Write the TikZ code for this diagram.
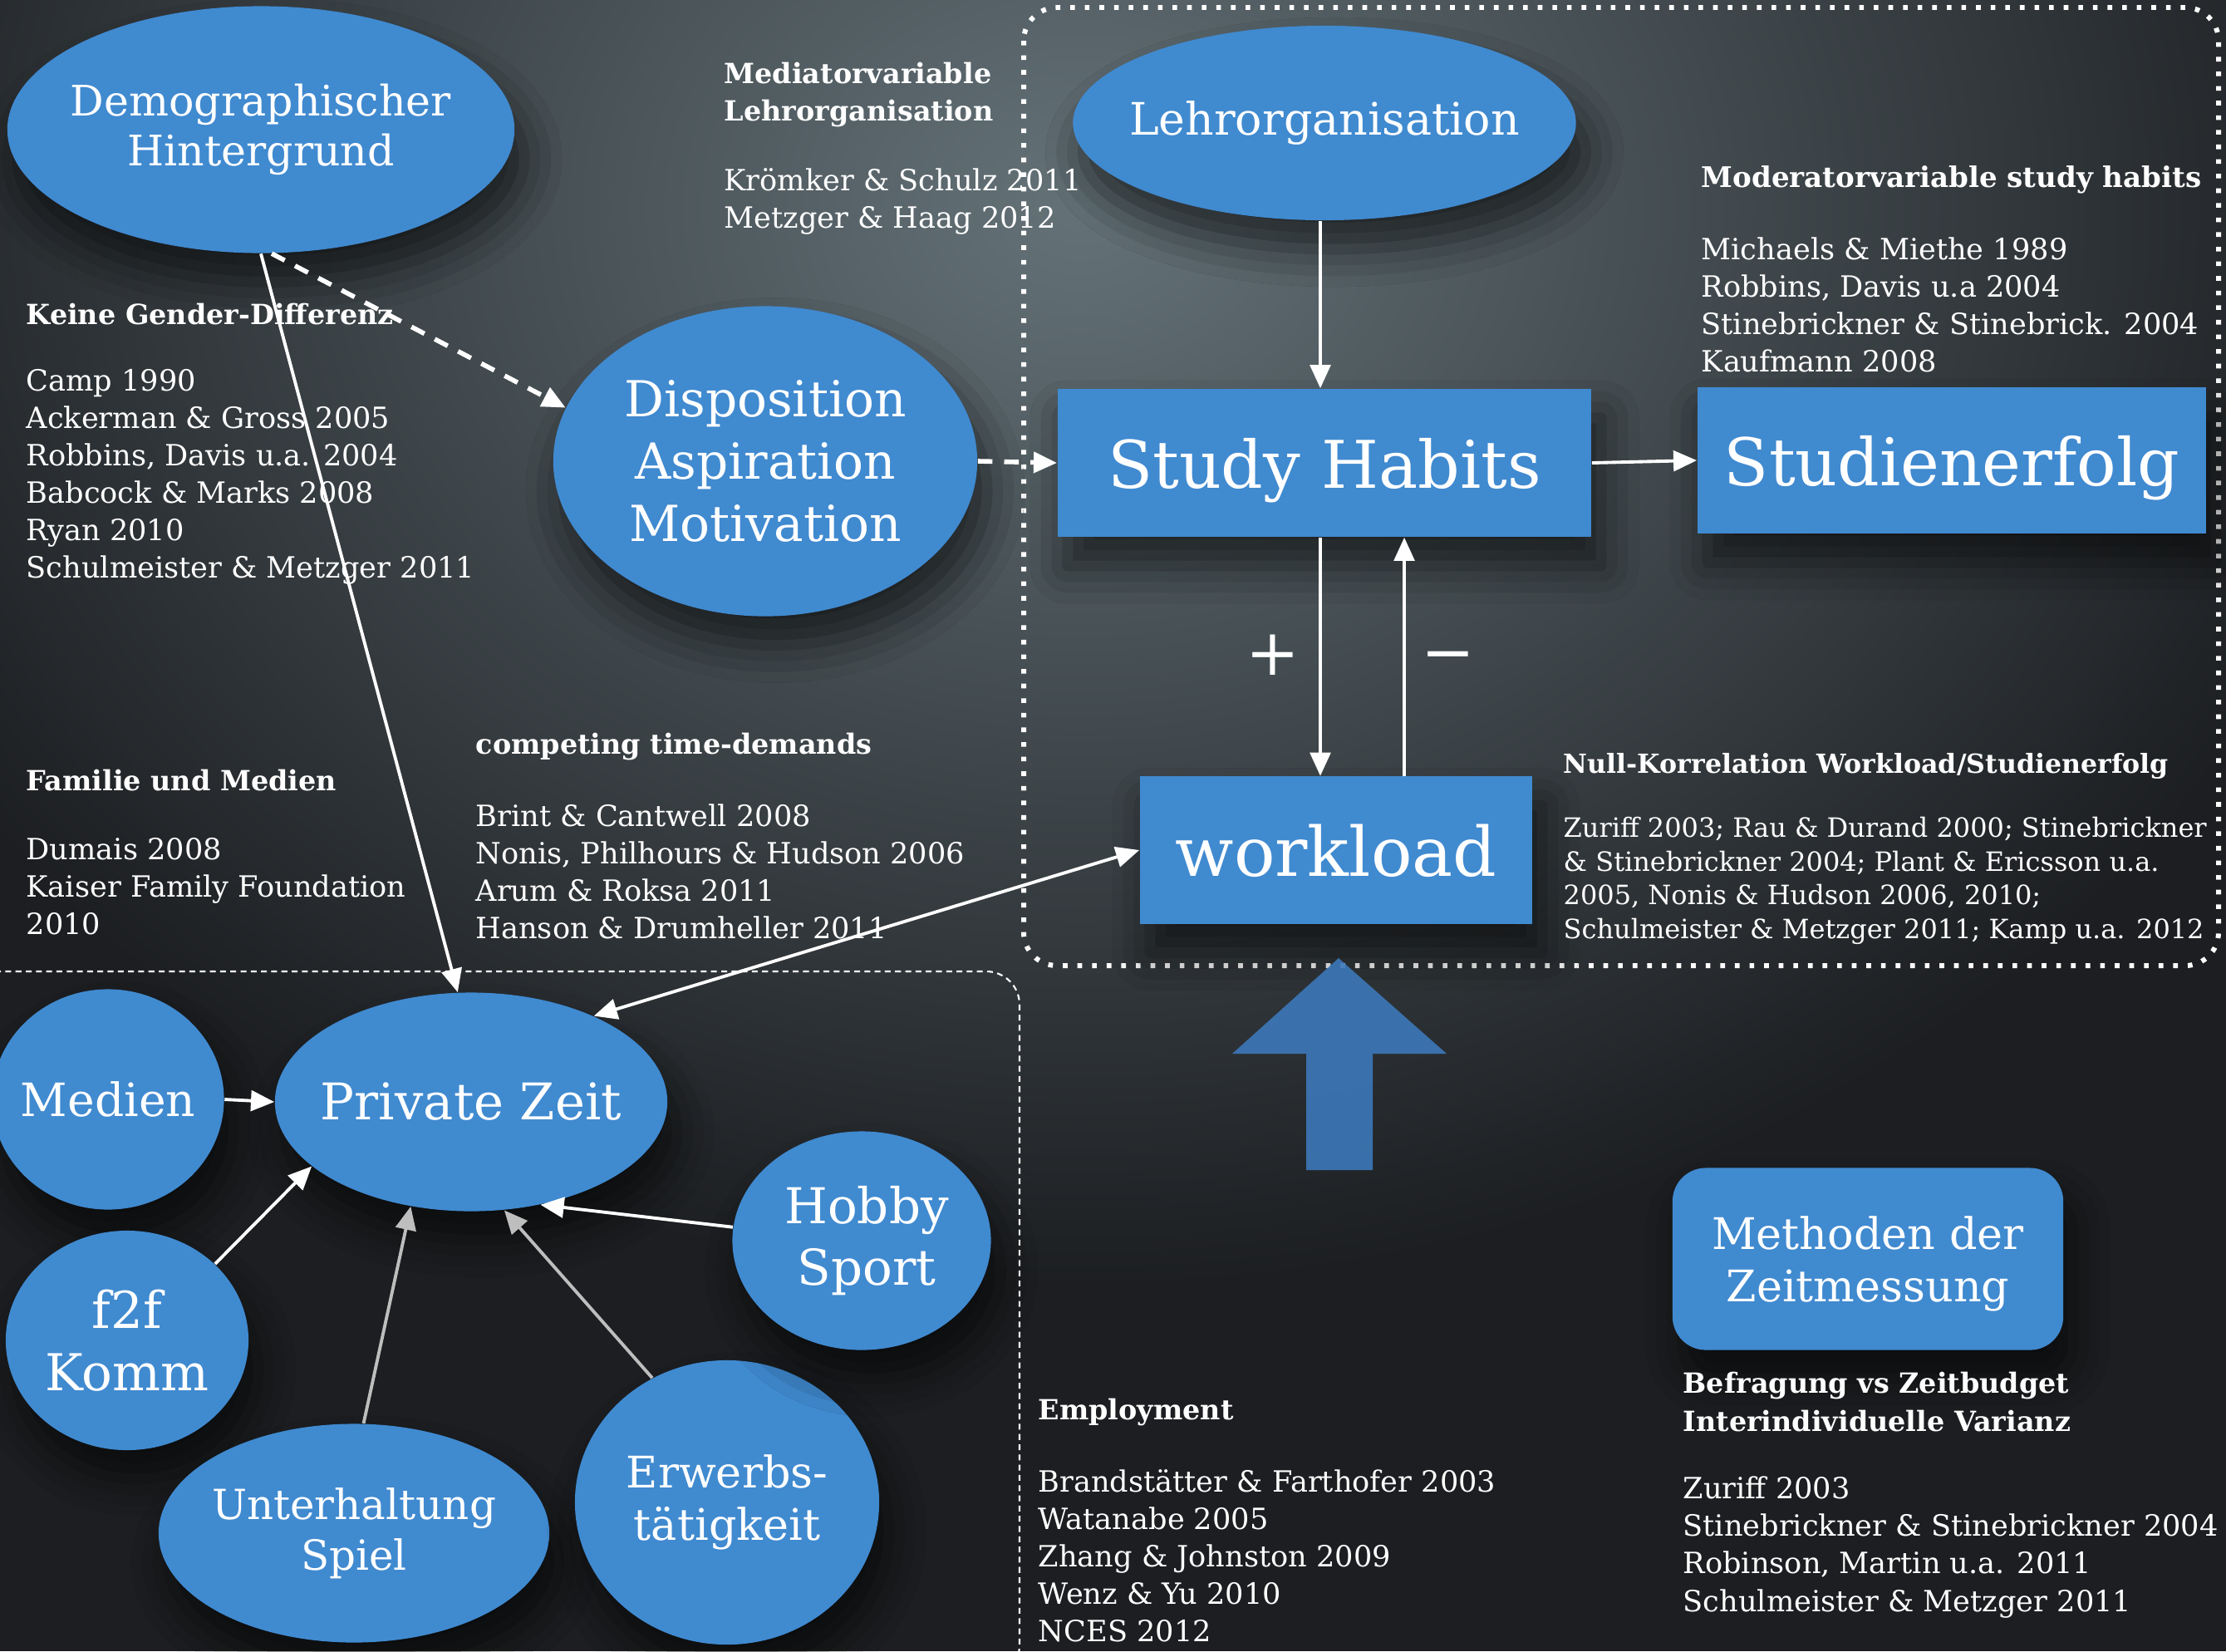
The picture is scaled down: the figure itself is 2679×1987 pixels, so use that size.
\documentclass[tikz,border=0pt]{standalone}
\usepackage{fontspec}
\setmainfont{DejaVu Serif}
\usetikzlibrary{shapes.geometric,arrows.meta,shadows.blur}

\definecolor{nodeblue}{RGB}{64,138,208}
\definecolor{arrowblue}{RGB}{60,120,185}
\definecolor{bgdark}{RGB}{28,30,33}
\definecolor{bglight}{RGB}{100,114,120}
\definecolor{fadegray}{RGB}{190,190,190}

\tikzset{
  blob/.style={ellipse, fill=nodeblue, text=white, inner sep=-2cm, align=center,
    blur shadow={shadow xshift=0.12cm, shadow yshift=-0.35cm,
      shadow blur radius=0.45cm, shadow opacity=60}},
  blockbox/.style={blob, rectangle, inner sep=0pt, text depth=0pt,
    font=\fontsize{22.5}{26}\selectfont},
  reftext/.style={text=white, anchor=west, align=left, inner sep=0pt,
    font=\fontsize{10}{12.8}\selectfont},
  headtext/.style={reftext, font=\bfseries\fontsize{9.5}{13}\selectfont},
  link/.style={white, line width=1.1pt, -{Triangle[width=7pt,length=8pt]}},
  dashlink/.style={link, line width=1.6pt, dash pattern=on 5pt off 4pt},
  dotborder/.style={white, line width=1.7pt,
    dash pattern=on 1.6pt off 3.4pt, rounded corners=0.4cm},
  dashborder/.style={white, line width=0.6pt, dash pattern=on 2pt off 1.5pt,
    rounded corners=0.4cm},
}

\begin{document}
\begin{tikzpicture}[x=0.01cm,y=-0.01cm]
  \useasboundingbox (0,0) rectangle (2679,1987);
  % background
  \fill[bgdark] (0,0) rectangle (2679,1987);
  \begin{scope}
    \clip (0,0) rectangle (2679,1987);
    \shade[inner color=bglight, outer color=bgdark]
      (1300,250) ellipse [x radius=16cm, y radius=13cm];
  \end{scope}

  % groups
  \draw[dotborder] (1232,9) rectangle (2670,1162);
  \draw[dashborder] (-60,1169) rectangle (1227,2020);

  % nodes
  \node[blob, minimum width=6.1cm, minimum height=2.97cm,
    font=\fontsize{14.4}{17}\selectfont] (demo) at (314,156)
    {Demographischer\\Hintergrund};
  \node[blob, minimum width=5.1cm, minimum height=3.73cm,
    font=\fontsize{17}{21.3}\selectfont] (disp) at (921,555)
    {Disposition\\Aspiration\\Motivation};
  \node[blob, minimum width=6.05cm, minimum height=2.34cm,
    font=\fontsize{15.3}{17}\selectfont] (lehr) at (1594,148)
    {Lehrorganisation};
  \node[blockbox, minimum width=6.42cm, minimum height=1.78cm] (study)
    at (1594,557) {Study Habits};
  \node[blockbox, minimum width=6.12cm, minimum height=1.76cm] (erfolg)
    at (2349,554) {Studienerfolg};
  \node[blockbox, minimum width=4.72cm, minimum height=1.77cm,
    font=\fontsize{23.4}{26}\selectfont] (workload)
    at (1608,1023) {workload};
  \node[blob, minimum width=4.72cm, minimum height=2.63cm,
    font=\fontsize{17.3}{20}\selectfont] (privat) at (567,1326)
    {Private Zeit};
  \node[blob, minimum width=2.79cm, minimum height=2.65cm,
    font=\fontsize{15.7}{19}\selectfont] (medien) at (130,1323) {Medien};
  \node[blob, minimum width=2.92cm, minimum height=2.64cm,
    font=\fontsize{17.4}{21.4}\selectfont] (f2f) at (153,1613) {f2f\\Komm};
  \node[blob, minimum width=4.7cm, minimum height=2.63cm,
    font=\fontsize{14.2}{17.5}\selectfont] (unter) at (426,1845)
    {Unterhaltung\\Spiel};
  \node[blob, minimum width=3.66cm, minimum height=3.42cm,
    font=\fontsize{14.9}{18}\selectfont] (erwerb) at (875,1808)
    {Erwerbs-\\tätigkeit};
  \node[blob, minimum width=3.11cm, minimum height=2.63cm,
    font=\fontsize{16.9}{21}\selectfont] (hobby) at (1037,1493)
    {\hspace*{0.12cm}Hobby\\\hspace*{0.12cm}Sport};
  \node[blockbox, rounded corners=0.4cm, minimum width=4.7cm,
    minimum height=2.19cm, font=\fontsize{14.9}{18}\selectfont] (methoden)
    at (2248,1515) {Methoden der\\Zeitmessung};

  % big arrow
  \fill[arrowblue, opacity=0.9] (1611,1153) -- (1741,1268) -- (1652,1268)
    -- (1652,1408) -- (1572,1408) -- (1572,1268) -- (1483,1268) -- cycle;

  % text blocks
  \node[headtext] (mediatorhead) at (871,114)
    {Mediatorvariable\\Lehrorganisation};
  \node[reftext] (mediatorrefs) at (871,242)
    {Krömker \& Schulz 2011\\Metzger \& Haag 2012};
  \node[headtext] (genderhead) at (31,378) {Keine Gender-Differenz};
  \node[reftext] (genderrefs) at (31,574)
    {Camp 1990\\Ackerman \& Gross 2005\\Robbins, Davis u.a. 2004\\
     Babcock \& Marks 2008\\Ryan 2010\\Schulmeister \& Metzger 2011};
  \node[headtext] (familyhead) at (31,939) {Familie und Medien};
  \node[reftext] (familyrefs) at (31,1067)
    {Dumais 2008\\Kaiser Family Foundation\\2010};
  \node[headtext] (timehead) at (572,898) {competing time-demands};
  \node[reftext] (timerefs) at (572,1049)
    {Brint \& Cantwell 2008\\Nonis, Philhours \& Hudson 2006\\
     Arum \& Roksa 2011\\Hanson \& Drumheller 2011};
  \node[headtext, font=\bfseries\fontsize{9.7}{13}\selectfont] (moderatorhead)
    at (2047,216) {Moderatorvariable study habits};
  \node[reftext] (moderatorrefs) at (2047,367)
    {Michaels \& Miethe 1989\\Robbins, Davis u.a 2004\\
     Stinebrickner \& Stinebrick. 2004\\Kaufmann 2008};
  \node[headtext, font=\bfseries\fontsize{9}{13}\selectfont] (nullhead)
    at (1881,922) {Null-Korrelation Workload/Studienerfolg};
  \node[reftext, font=\fontsize{9.1}{11.5}\selectfont] (nullrefs)
    at (1881,1060)
    {Zuriff 2003; Rau \& Durand 2000; Stinebrickner\\
     \& Stinebrickner 2004; Plant \& Ericsson u.a.\\
     2005, Nonis \& Hudson 2006, 2010;\\
     Schulmeister \& Metzger 2011; Kamp u.a. 2012};
  \node[headtext] (employhead) at (1249,1699) {Employment};
  \node[reftext] (employrefs) at (1249,1872)
    {Brandstätter \& Farthofer 2003\\Watanabe 2005\\
     Zhang \& Johnston 2009\\Wenz \& Yu 2010\\NCES 2012};
  \node[headtext] (methodhead) at (2025,1687)
    {Befragung vs Zeitbudget\\Interindividuelle Varianz};
  \node[reftext] (methodrefs) at (2025,1862)
    {Zuriff 2003\\Stinebrickner \& Stinebrickner 2004\\
     Robinson, Martin u.a. 2011\\Schulmeister \& Metzger 2011};

  % signs
  \node[text=white, font=\fontsize{22}{24}\selectfont] (plus) at (1532,788) {+};
  \node[text=white, font=\fontsize{22}{24}\selectfont] (minus) at (1743,798) {−};

  % connectors
  \draw[link] (demo.south) -- (privat.97);
  \draw[dashlink] (demo.-85) -- (disp.165);
  \draw[dashlink] (disp.east) -- (study.west);
  \draw[link] ([xshift=-0.05cm]lehr.south) -- ([xshift=-0.05cm]study.north);
  \draw[link] (study.east) -- (erfolg.west);
  \draw[link] ([xshift=-0.05cm]study.south)
    -- ([xshift=-0.05cm]study.south |- workload.north);
  \draw[link] ([xshift=0.82cm]workload.north)
    -- ([xshift=0.82cm]workload.north |- study.south);
  \draw[link, {Triangle[width=7pt,length=8pt]}-{Triangle[width=7pt,length=8pt]}]
    (privat.35) -- (workload.west);
  \draw[link] (medien.east) -- (privat.west);
  \draw[link] (f2f.41) -- (privat.202);
  \draw[link, fadegray] (unter.85) -- (privat.240);
  \draw[link, fadegray] (erwerb.121) -- (privat.287);
  \draw[link] (hobby.174) -- (privat.304);
\end{tikzpicture}
\end{document}
